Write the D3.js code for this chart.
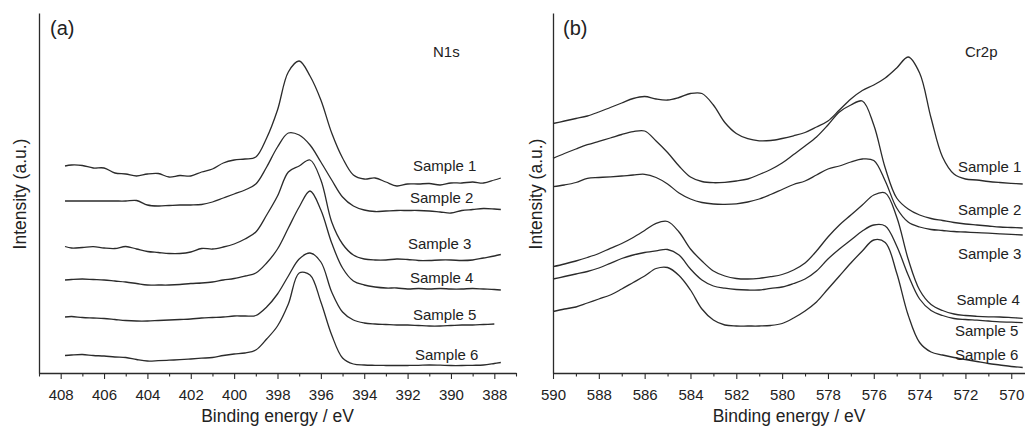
<!DOCTYPE html>
<html><head><meta charset="utf-8">
<script src="https://cdn.jsdelivr.net/npm/d3@7"></script>
<style>
html,body{margin:0;padding:0;background:#fff;}
svg{display:block;font-family:Arial,"Liberation Sans",Helvetica,sans-serif;}
</style></head><body>
<svg id="chart" width="1025" height="428"></svg>
<script>
// ---------- DATA ----------
const sampleNames = ["Sample 1","Sample 2","Sample 3","Sample 4","Sample 5","Sample 6"];
const panelTags = ["(a)","(b)"];
const coreLevels = ["N1s","Cr2p"];
const xTitle = "Binding energy / eV";
const yTitle = "Intensity (a.u.)";

// Panel (a) N1s
const energyA = [407.8,407.5,407,406.5,406,405.5,405,404.5,404,403.5,403,402.5,402,401.5,401,400.5,400,399.5,399,398.5,398,397.5,397,396.5,396,395.5,395,394.5,394,393.5,393,392.5,392,391.5,391,390.5,390,389.5,389,388.5,388,387.7];
const n1s_s1 = [207,208,207.5,205,205,200,199,197,199,199.5,196,197.5,197,201,204,210,213,214,216,235,263,301,312,297,273,240,215,198,194,195,191,187,189,189,189.5,188,190,190,191,190,193,195];
const n1s_s2 = [172,172,172,172,172,172,172,172.5,168,167,167.5,168,168,168.5,171,175,179,183,189,206,226,240,238,228,211,193,176,167,163,161.5,162,162.5,162.5,162.5,162,161,160,162.5,163.5,164.5,164,163.5];
const n1s_s3 = [126.5,125,125.5,126.3,125,124.5,126.5,124,121.5,120.5,119.5,119.5,121,124.5,124,126,129,134,141,158,177,201,207,213,193,151,129,118,114,113,113,114,113.5,112.5,112.5,113,113,112.5,113,115,117,118.5];
const n1s_s4 = [93,93.5,94,93.5,93,92,91,89.5,88,88,88,88.5,89.5,90,91,93,94.5,97,100,110,124,145,166,182,163,130,105,92,88,86,85,85,84,84.5,84,84.5,84,84,84.5,84,83.5,83];
const n1s_s5 = [56,56.5,55.5,55,54.5,53.5,52.5,52,52,52.5,53,53.5,54,55,55.5,56,57,57,57.5,66,79,97,114,120,111,81,61,53,50,49,48.5,48,48,47.5,47,47,47.5,48,48,48.5,49,null];
const n1s_s6 = [17.5,18,18.5,17.5,17,16,15.5,13.5,12,12.3,12.8,13.3,14,14.8,15.5,17.5,19,20,23,34,47,69,100,98,71,38,15,9,8,7.7,7.5,7.5,7.5,7.7,8,7.8,7.5,7.5,7.7,8,9.5,10.5];

// Panel (b) Cr2p
const energyB = [590,589.5,589,588.5,588,587.5,587,586.5,586,585.5,585,584.5,584,583.5,583,582.5,582,581.5,581,580.5,580,579.5,579,578.5,578,577.5,577,576.5,576,575.5,575,574.5,574,573.5,573,572.5,572,571.5,571,570.5,570,569.5];
const cr_s1 = [249.5,252,254.5,257,261,265.5,270,274.5,276.5,274,273,275.5,279.5,279.5,268,250.5,239.5,234.3,232.2,232.5,234.5,237.2,240.5,246,252,263,274,282.5,288,295,305,316,300,255,216,199,194,193,191.5,190.5,189.7,189];
const cr_s2 = [214.7,219.5,224,228.3,231.7,235,238.5,241.3,242,232,220.5,207,196,191.5,190.3,190.7,192,194,198.5,203.5,210,218.5,227,236,248,261,268,272,248,205,175,164,158,154.5,152.5,150.5,149,148,147,146,145.5,145];
const cr_s3 = [186.3,188,190.5,194.7,195.5,196.2,197,198,198.7,195.5,189,180,174,170.5,169,168.7,169.2,171,174,178.5,183.5,188.5,192,198,204,207,211,214,212.5,192,165,151,146,143.5,142.5,141.5,141,140.3,139.8,139.2,138.6,138];
const cr_s4 = [106.3,109,112,115.5,119.5,124.7,129.5,135.5,142.5,149.7,151.5,141,124,112,102,97,94.5,94,94.7,96.3,98.5,103,110,122,136,148,158,168,178,180,156,114,83,68.5,62.5,59,57.5,56.7,56.2,56,55.4,54.7];
const cr_s5 = [94,96.5,99,101.5,105,109.7,114.5,118,120.5,122.2,123.5,118,104,93,87,84.8,83.5,83,83,84.7,86,89.5,94,102,114,124,133,142,148,147,127,98,74,62.5,57.5,54.5,53.5,52.8,52,51.2,50.8,50.3];
const cr_s6 = [61.5,64,66,70,74,78,84,90.5,97,104.5,105.5,97.5,83,64,53,48,47,47,47,47.5,49.5,55,62,71,84,97,110,122,133,130.5,100,58,30.5,21,18,15.5,13.5,11.5,9.5,8,6.5,5.5];

// Axis ticks
const majorTicksA = [408,406,404,402,400,398,396,394,392,390,388];
const minorTicksA = [409,407,405,403,401,399,397,395,393,391,389,387];
const majorTicksB = [590,588,586,584,582,580,578,576,574,572,570];
const minorTicksB = [589,587,585,583,581,579,577,575,573,571];

// ---------- DRAW ----------
const svg = d3.select("#chart");
const yTop = 13, yBot = 373;
const y = d3.scaleLinear().domain([0,360]).range([yBot,yTop]);
const ink = "#2b2b2b";

const panels = [
  {x: d3.scaleLinear().domain([409,387]).range([39,516]), energy: energyA,
   series: [n1s_s1,n1s_s2,n1s_s3,n1s_s4,n1s_s5,n1s_s6], major: majorTicksA, minor: minorTicksA,
   tag: panelTags[0], core: coreLevels[0], tagPos:[50,35], corePos:[433,57], ylabX: 26,
   labelPos: [[413,171],[410,203],[408,249],[410,283],[413,320],[415,360]]},
  {x: d3.scaleLinear().domain([590,569.4]).range([553,1025]), energy: energyB,
   series: [cr_s1,cr_s2,cr_s3,cr_s4,cr_s5,cr_s6], major: majorTicksB, minor: minorTicksB,
   tag: panelTags[1], core: coreLevels[1], tagPos:[563,35], corePos:[965,57], ylabX: 542,
   labelPos: [[958,171.5],[958,215],[958,258.5],[956.5,305],[955,336],[955,359.5]]}
];

panels.forEach(p => {
  const g = svg.append("g");
  // minor ticks
  const minorAxis = d3.axisBottom(p.x).tickValues(p.minor).tickSize(3.5).tickSizeOuter(0).tickFormat("");
  const gm = g.append("g").attr("transform", `translate(0,${yBot})`).call(minorAxis);
  gm.select(".domain").remove();
  gm.selectAll("line").attr("stroke", ink).attr("stroke-width", 1.1);
  // major ticks + domain
  const majorAxis = d3.axisBottom(p.x).tickValues(p.major).tickSize(6).tickSizeOuter(0).tickPadding(10).tickFormat(d3.format("d"));
  const ga = g.append("g").attr("transform", `translate(0,${yBot})`).call(majorAxis);
  ga.select(".domain").attr("stroke", ink).attr("stroke-width", 1.3);
  ga.selectAll("line").attr("stroke", ink).attr("stroke-width", 1.1);
  ga.selectAll("text").attr("font-size", 15).attr("fill", "#222")
    .attr("font-family", "Arial, 'Liberation Sans', sans-serif");
  // y axis line
  const yAxis = d3.axisLeft(y).tickValues([]).tickSizeOuter(0);
  const gy = g.append("g").attr("transform", `translate(${p.x.range()[0]},0)`).call(yAxis);
  gy.select(".domain").attr("stroke", ink).attr("stroke-width", 1.3);

  // curves
  const line = d3.line()
    .defined(d => d[1] !== null)
    .x(d => p.x(d[0])).y(d => y(d[1]))
    .curve(d3.curveCatmullRom.alpha(0.5));
  p.series.forEach(s => {
    g.append("path")
      .datum(p.energy.map((e,i) => [e, s[i]]))
      .attr("d", line)
      .attr("fill", "none").attr("stroke", ink).attr("stroke-width", 1.3)
      .attr("stroke-linejoin", "round");
  });

  // sample labels
  sampleNames.forEach((n,i) => {
    g.append("text").attr("x", p.labelPos[i][0]).attr("y", p.labelPos[i][1])
      .attr("font-size", 15).attr("fill", "#222").text(n);
  });
  // tag & core level
  g.append("text").attr("x", p.tagPos[0]).attr("y", p.tagPos[1]).attr("font-size", 20).attr("fill","#222").text(p.tag);
  g.append("text").attr("x", p.corePos[0]).attr("y", p.corePos[1]).attr("font-size", 15).attr("fill","#222").text(p.core);
  // axis titles
  const xr = p.x.range();
  g.append("text").attr("x", (xr[0]+xr[1])/2).attr("y", 422).attr("text-anchor","middle")
    .attr("font-size", 17.5).attr("fill","#222").text(xTitle);
  g.append("text").attr("transform", `translate(${p.ylabX},194) rotate(-90)`).attr("text-anchor","middle")
    .attr("font-size", 17.5).attr("fill","#222").text(yTitle);
});
</script>
</body></html>
